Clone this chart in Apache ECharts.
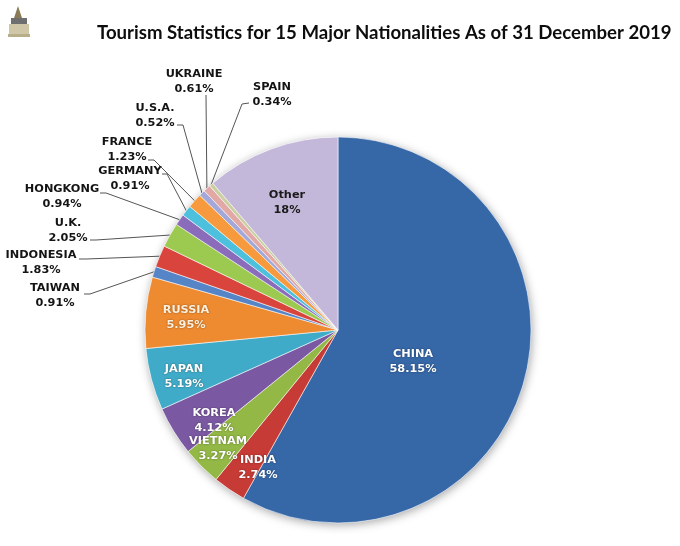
<!DOCTYPE html>
<html>
<head>
<meta charset="utf-8">
<script src="https://cdn.jsdelivr.net/npm/echarts@6/dist/echarts.min.js"></script>
<style>
html,body{margin:0;padding:0;background:#fff;}
#chart{width:680px;height:546px;}
</style>
</head>
<body>
<div id="chart"></div>
<script>
// ---- data ----
const categories = ['CHINA','INDIA','VIETNAM','KOREA','JAPAN','RUSSIA','TAIWAN','INDONESIA','U.K.','HONGKONG','GERMANY','FRANCE','U.S.A.','UKRAINE','SPAIN','Other'];
// slice sizes as drawn (Other slice drawn ~11.24 although labelled 18%)
const sliceValues = [58.15,2.74,3.27,4.12,5.19,5.95,0.91,1.83,2.05,0.94,0.91,1.23,0.52,0.61,0.34,11.24];
const percentLabels = ['58.15%','2.74%','3.27%','4.12%','5.19%','5.95%','0.91%','1.83%','2.05%','0.94%','0.91%','1.23%','0.52%','0.61%','0.34%','18%'];
const titleText = 'Tourism Statistics for 15 Major Nationalities As of 31 December 2019';

// ---- styles ----
const colors = ['#3667a7','#c63b35','#93b845','#7b59a2','#40abc8','#ee8a30','#5585c6','#d9443c','#9cc94f','#8a6cba','#4cc0dd','#f79a3e','#a2a8d8','#e2a8a6','#c9cfa0','#c4b8da'];
const insideLabels = {CHINA:1, INDIA:1, VIETNAM:1, KOREA:1, JAPAN:1, RUSSIA:1, Other:1};
const labelPlacement = {
  CHINA:{x:413,y:362}, INDIA:{x:258,y:468}, VIETNAM:{x:218,y:449}, KOREA:{x:214,y:421},
  JAPAN:{x:184,y:377}, RUSSIA:{x:186,y:318}, Other:{x:287,y:203},
  TAIWAN:{x:55,y:296,end:[84,294],elbow:[90,294]},
  INDONESIA:{x:41,y:263,end:[79,259],elbow:[86,259]},
  'U.K.':{x:68,y:231,end:[90,240],elbow:[96,240]},
  HONGKONG:{x:62,y:197,end:[100,193],elbow:[106,193]},
  GERMANY:{x:130,y:179,end:[162,174],elbow:[167,174]},
  FRANCE:{x:127,y:150,end:[148,160],elbow:[154,160]},
  'U.S.A.':{x:155,y:116,end:[177,125],elbow:[183,125]},
  UKRAINE:{x:194,y:82,end:[206,95],elbow:[206,96]},
  SPAIN:{x:272,y:95,end:[249,103],elbow:[242,104]}
};

const pieData = categories.map((name, i) => {
  const inside = !!insideLabels[name];
  return {
    name: name,
    value: sliceValues[i],
    itemStyle: { color: colors[i] },
    label: {
      position: inside ? 'inside' : 'outside',
      color: inside ? (name === 'Other' ? '#1a1a1a' : (name === 'RUSSIA' ? '#fdf0dc' : '#ffffff')) : '#141414',
      textShadowColor: inside && name !== 'Other' ? 'rgba(0,0,0,0.45)' : 'transparent',
      textShadowBlur: inside && name !== 'Other' ? 2 : 0
    },
    labelLine: { show: !inside }
  };
});

const chart = echarts.init(document.getElementById('chart'), null, {renderer:'canvas'});
chart.setOption({
  backgroundColor: '#ffffff',
  animation: false,
  title: {
    text: titleText,
    left: 92, top: 18,
    textStyle: { fontFamily: 'Lato', fontWeight: 'bold', fontSize: 18.6, color: '#0d0d0d' }
  },
  graphic: [{
    type: 'group', left: 8, top: 6,
    children: [
      { type: 'polygon', shape: { points: [[10,0],[14,12],[6,12]] }, style: { fill: '#8a7a55' } },
      { type: 'rect', shape: { x: 3, y: 12, width: 16, height: 6 }, style: { fill: '#6f6f6f' } },
      { type: 'rect', shape: { x: 1, y: 18, width: 20, height: 10 }, style: { fill: '#cfc7a8' } },
      { type: 'rect', shape: { x: 0, y: 28, width: 22, height: 3 }, style: { fill: '#b8ae8a' } }
    ]
  }],
  series: [
    {
      type: 'pie', silent: true, z: 1,
      center: [338, 330], radius: 193,
      label: { show: false }, labelLine: { show: false },
      itemStyle: { color: '#ffffff', shadowBlur: 10, shadowColor: 'rgba(0,0,0,0.35)', shadowOffsetX: 1, shadowOffsetY: 2 },
      data: [{ value: 1, name: 'bg' }]
    },
    {
      type: 'pie', z: 2,
      center: [338, 330], radius: 193,
      startAngle: 90, clockwise: true,
      avoidLabelOverlap: false,
      itemStyle: { borderColor: 'rgba(255,255,255,0.55)', borderWidth: 1 },
      label: {
        show: true,
        fontFamily: 'DejaVu Sans', fontWeight: 'bold', fontSize: 11.3, lineHeight: 15,
        align: 'center',
        formatter: p => p.name + '\n' + percentLabels[p.dataIndex]
      },
      labelLine: { show: true, lineStyle: { color: '#555555', width: 1 } },
      labelLayout: function (p) {
        const lp = labelPlacement[categories[p.dataIndex]];
        const res = { x: lp.x, y: lp.y, align: 'center', verticalAlign: 'middle' };
        if (lp.end && p.labelLinePoints) {
          res.labelLinePoints = [p.labelLinePoints[0], lp.elbow, lp.end];
        }
        return res;
      },
      emphasis: { disabled: true },
      data: pieData
    }
  ]
});
</script>
</body>
</html>
